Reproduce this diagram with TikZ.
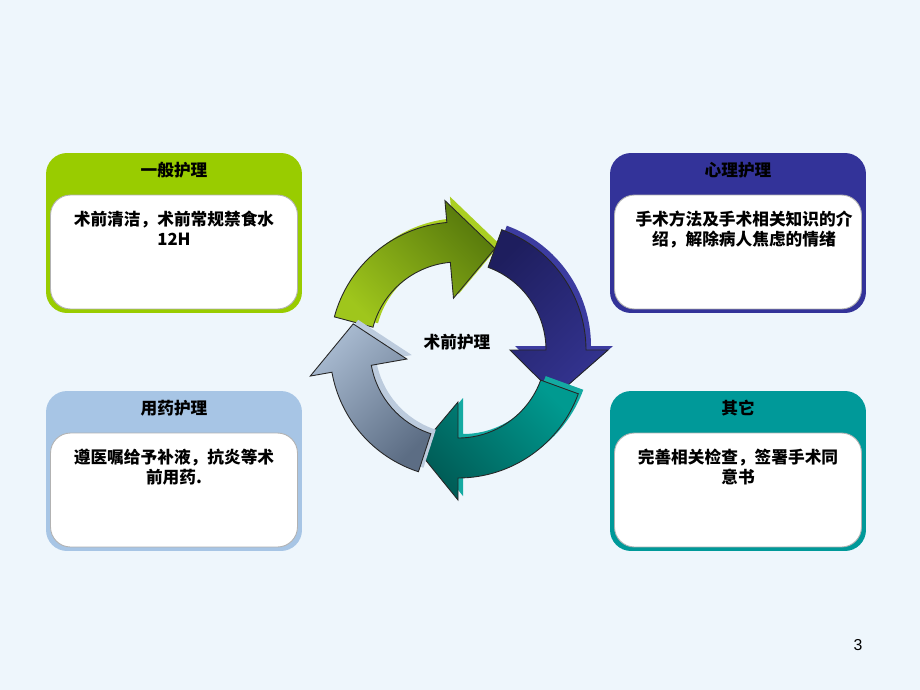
\documentclass[tikz,border=0pt]{standalone}
\usepackage{fontspec}
\setmainfont{Liberation Sans}
\newfontfamily\cjk{Noto Sans CJK SC}
\definecolor{bgcol}{HTML}{EEF6FC}
\definecolor{grnbox}{HTML}{99CC00}
\definecolor{blubox}{HTML}{333399}
\definecolor{skybox}{HTML}{A7C5E5}
\definecolor{tealbox}{HTML}{009999}
\definecolor{grnA}{HTML}{9FC61C}
\definecolor{grnB}{HTML}{587A0C}
\definecolor{grnE}{HTML}{AACF22}
\definecolor{bluA}{HTML}{33338F}
\definecolor{bluB}{HTML}{1E1E5E}
\definecolor{bluE}{HTML}{3C3CA0}
\definecolor{tealA}{HTML}{009A90}
\definecolor{tealB}{HTML}{005C56}
\definecolor{tealE}{HTML}{14AAA2}
\definecolor{grayA}{HTML}{A8BAD0}
\definecolor{grayB}{HTML}{5C6D84}
\definecolor{grayE}{HTML}{BCCBDD}
\begin{document}
\begin{tikzpicture}[x=0.02cm,y=-0.02cm,
    outerbox/.style={rounded corners=0.42cm,minimum width=5.12cm,minimum height=3.2cm,inner sep=0pt},
    innerbox/.style={fill=white,draw=black!30,line width=0.5pt,rounded corners=0.4cm,
      minimum width=4.94cm,minimum height=2.28cm,inner sep=0pt},
    headtext/.style={font=\cjk\bfseries\fontsize{9.5}{11.3}\selectfont},
    bodytext/.style={font=\cjk\bfseries\fontsize{9.5}{11.3}\selectfont,align=center,anchor=north,inner sep=0pt}]
  \fill[bgcol] (0,0) rectangle (920,690);
  \useasboundingbox (0,0) rectangle (920,690);
  % boxes
  \node[outerbox,fill=grnbox] (gen) at (174,233) {};
  \node[innerbox] (genin) at (174,252) {};
  \node[headtext] (genhd) at (174,170) {一般护理};
  \node[bodytext] (genbd) at (174,211) {术前清洁，术前常规禁食水\\12H};
  \node[outerbox,fill=blubox] (psy) at (738,233) {};
  \node[innerbox] (psyin) at (738,252) {};
  \node[headtext] (psyhd) at (738,170) {心理护理};
  \node[bodytext] (psybd) at (744,211) {手术方法及手术相关知识的介\\绍，解除病人焦虑的情绪};
  \node[outerbox,fill=skybox] (med) at (174,471) {};
  \node[innerbox] (medin) at (174,490) {};
  \node[headtext] (medhd) at (174,408) {用药护理};
  \node[bodytext] (medbd) at (174,449) {遵医嘱给予补液，抗炎等术\\前用药.};
  \node[outerbox,fill=tealbox] (oth) at (738,471) {};
  \node[innerbox] (othin) at (738,490) {};
  \node[headtext] (othhd) at (738,408) {其它};
  \node[bodytext] (othbd) at (738,449) {完善相关检查，签署手术同\\意书};
  % ring of arrows
  \begin{scope}[shift={(458,350)},yscale=-1]
    \foreach \a/\b/\t/\ca/\cb/\ce/\s in {165/95/70/grnA/grnB/grnE/-45,
        70/0/-25/bluA/bluB/bluE/45,-20/-90/-112/tealA/tealB/tealE/135,
        -108/-170/-194/grayA/grayB/grayE/-135}
    {
      \fill[\ce,shift={(5,4)}] (\a:128) arc[start angle=\a,end angle=\b,radius=128]
        -- (\b:150) -- (\t:108) -- (\b:52) -- (\b:88)
        arc[start angle=\b,end angle=\a,radius=88] -- cycle;
      \shade[draw=black!85,line width=0.5pt,left color=\cb,right color=\ca,shading angle=\s]
        (\a:128) arc[start angle=\a,end angle=\b,radius=128]
        -- (\b:150) -- (\t:108) -- (\b:52) -- (\b:88)
        arc[start angle=\b,end angle=\a,radius=88] -- cycle;
    }
  \end{scope}
  \node[headtext] (core) at (457,342) {术前护理};
  \node[font=\fontsize{9}{11}\selectfont] (pgno) at (858,645) {3};
\end{tikzpicture}
\end{document}
